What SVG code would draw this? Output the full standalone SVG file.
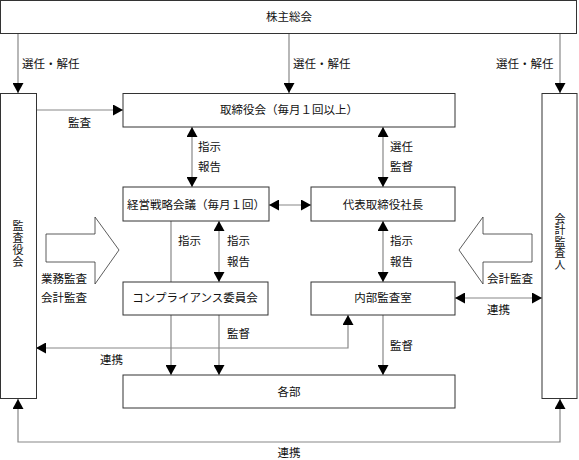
<svg xmlns="http://www.w3.org/2000/svg" width="579" height="460" viewBox="0 0 579 460">
<style>
.box{fill:#fff;stroke:#333;stroke-width:1}
.ln{fill:none;stroke:#888;stroke-width:1.2}
.blk{fill:#fff;stroke:#333;stroke-width:0.8}
text{font-family:"Noto Sans CJK JP","Noto Sans CJK SC",sans-serif;font-size:11.5px;fill:#111}
.c{text-anchor:middle}
.v{font-size:11px;text-anchor:middle;writing-mode:vertical-rl}
</style>
<defs>
<marker id="ah" viewBox="0 0 10 11" refX="10" refY="5.5" markerWidth="10" markerHeight="11" markerUnits="userSpaceOnUse" orient="auto-start-reverse">
<path d="M0,0 L10,5.5 L0,11 Z" fill="#000"/>
</marker>
</defs>
<rect width="579" height="460" fill="#fff"/>
<g id="connectors">
<path class="ln" d="M18,33 V93" marker-end="url(#ah)"/>
<path class="ln" d="M289,33 V93" marker-end="url(#ah)"/>
<path class="ln" d="M560,33 V93" marker-end="url(#ah)"/>
<path class="ln" d="M36,110 H123" marker-end="url(#ah)"/>
<path class="ln" d="M192,127 V187" marker-start="url(#ah)" marker-end="url(#ah)"/>
<path class="ln" d="M383,127 V187" marker-start="url(#ah)" marker-end="url(#ah)"/>
<path class="ln" d="M269,205 H311" marker-start="url(#ah)" marker-end="url(#ah)"/>
<path class="ln" d="M171,221 V375" marker-end="url(#ah)"/>
<path class="ln" d="M219,221 V282" marker-start="url(#ah)" marker-end="url(#ah)"/>
<path class="ln" d="M219,315 V375" marker-end="url(#ah)"/>
<path class="ln" d="M383,221 V282" marker-start="url(#ah)" marker-end="url(#ah)"/>
<path class="ln" d="M383,315 V375" marker-end="url(#ah)"/>
<path class="ln" d="M455,298 H542" marker-start="url(#ah)" marker-end="url(#ah)"/>
<path class="ln" d="M36,348 H348 V315" marker-start="url(#ah)" marker-end="url(#ah)"/>
<path class="ln" d="M18,399 V442 H560 V399" marker-start="url(#ah)" marker-end="url(#ah)"/>
<polygon class="blk" points="46,234 95,234 95,217 119,250 95,284 95,262 46,262"/>
<polygon class="blk" points="532,234 483,234 483,217 459,250 483,284 483,262 532,262"/>
<text x="22" y="68">選任・解任</text>
<text x="293" y="68">選任・解任</text>
<text x="496" y="68">選任・解任</text>
<text x="68" y="127">監査</text>
<text x="198" y="151">指示</text>
<text x="198" y="171">報告</text>
<text x="390" y="151">選任</text>
<text x="390" y="171">監督</text>
<text x="178" y="245">指示</text>
<text x="227" y="245">指示</text>
<text x="227" y="266">報告</text>
<text x="390" y="245">指示</text>
<text x="390" y="266">報告</text>
<text x="41" y="283">業務監査</text>
<text x="41" y="302">会計監査</text>
<text x="487" y="283">会計監査</text>
<text x="487" y="314">連携</text>
<text x="227" y="338">監督</text>
<text x="390" y="350">監督</text>
<text x="100" y="364">連携</text>
<text class="c" x="289" y="457">連携</text>
</g>
<g id="shareholders">
<rect class="box" x="0.5" y="0.5" width="576" height="33"/>
<text class="c" x="289" y="21">株主総会</text>
</g>
<g id="auditors">
<rect class="box" x="0.5" y="93.5" width="36" height="305"/>
<text class="v" x="18" y="244" letter-spacing="1">監査役会</text>
</g>
<g id="accounting-auditor">
<rect class="box" x="542" y="93.5" width="35" height="305"/>
<text class="v" x="560" y="242" letter-spacing="0.5">会計監査人</text>
</g>
<g id="board">
<rect class="box" x="123" y="93.5" width="332" height="33.5"/>
<text class="c" x="289" y="114">取締役会（毎月１回以上）</text>
</g>
<g id="strategy">
<rect class="box" x="123" y="187" width="146" height="34"/>
<text class="c" x="196" y="209">経営戦略会議（毎月１回）</text>
</g>
<g id="president">
<rect class="box" x="311" y="187" width="144" height="34"/>
<text class="c" x="383" y="209">代表取締役社長</text>
</g>
<g id="compliance">
<rect class="box" x="123" y="282" width="145" height="33"/>
<text class="c" x="195" y="302">コンプライアンス委員会</text>
</g>
<g id="internal-audit">
<rect class="box" x="311" y="282" width="144" height="33"/>
<text class="c" x="383" y="302">内部監査室</text>
</g>
<g id="departments">
<rect class="box" x="123" y="375" width="332" height="33"/>
<text class="c" x="289" y="396">各部</text>
</g>
</svg>
